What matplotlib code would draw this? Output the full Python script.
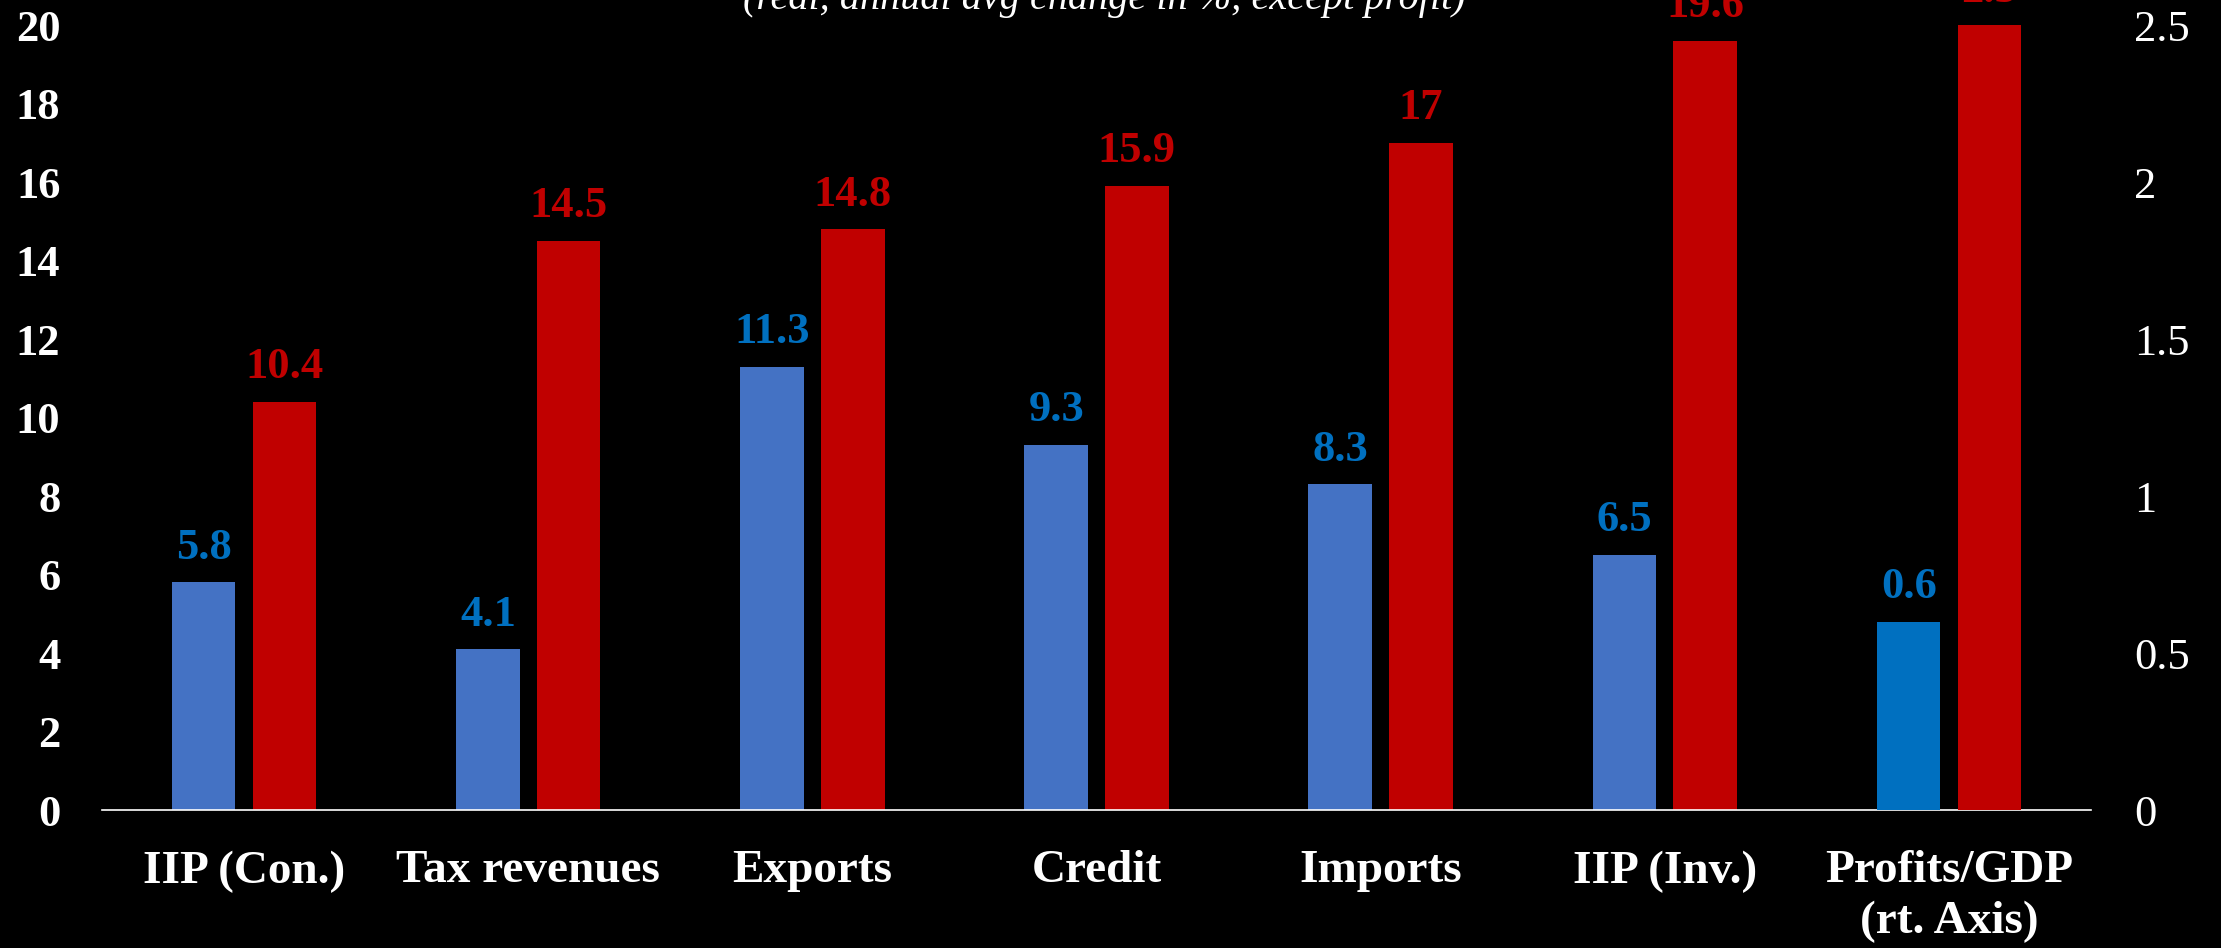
import numpy as np
import matplotlib
matplotlib.use('Agg')
from matplotlib import pyplot as plt

# growth indicators, earlier period vs later period
categories = ['IIP (Con.)', 'Tax revenues', 'Exports', 'Credit', 'Imports', 'IIP (Inv.)',
              'Profits/GDP\n(rt. Axis)']
before = [5.8, 4.1, 11.3, 9.3, 8.3, 6.5]
after = [10.4, 14.5, 14.8, 15.9, 17, 19.6]
profit_before = 0.6
profit_after = 2.5

left_ticks = [0, 2, 4, 6, 8, 10, 12, 14, 16, 18, 20]
right_ticks = [0, 0.5, 1, 1.5, 2, 2.5]
right_labels = ['0', '0.5', '1', '1.5', '2', '2.5']

BLUE = '#4472C4'
BLUE_DARK = '#0070C0'
RED = '#C00000'
SERIF = 'Liberation Serif'


def label_bar(ax, x, v, color, text):
    ax.annotate(text, (x, v), xytext=(0, 17), textcoords='offset points',
                ha='center', va='baseline', color=color, fontsize=32,
                fontweight='bold', family=SERIF, annotation_clip=False)


def main():
    fig = plt.figure(figsize=(22.21, 9.48), dpi=100, facecolor='black')
    ax = fig.add_axes([0.0459, 0.1455, 0.8956, 0.828])
    ax.set_facecolor('black')
    ax2 = ax.twinx()

    x = np.arange(len(before))
    w, off = 0.224, 0.142
    ax.bar(x - off, before, w, color=BLUE)
    ax.bar(x + off, after, w, color=RED)
    for xi, b, a in zip(x, before, after):
        label_bar(ax, xi - off, b, BLUE_DARK, f'{b:g}')
        label_bar(ax, xi + off, a, RED, f'{a:g}')

    # profits share sits on the right-hand scale
    xp = len(before)
    ax2.bar(xp - off, profit_before, w, color=BLUE_DARK)
    ax2.bar(xp + off, profit_after, w, color=RED)
    label_bar(ax2, xp - off, profit_before, BLUE_DARK, f'{profit_before:g}')
    label_bar(ax2, xp + off, profit_after, RED, f'{profit_after:g}')

    ax.set_xlim(-0.5, len(categories) - 0.5)
    ax.set_ylim(0, 20)
    ax2.set_ylim(0, 2.5)

    ax.set_xticks(np.arange(len(categories)))
    ax.set_xticklabels(categories, family=SERIF, fontsize=34, fontweight='bold',
                       color='white', linespacing=1.25)
    ax.set_yticks(left_ticks)
    ax.set_yticklabels([str(t) for t in left_ticks], family=SERIF, fontsize=32,
                       fontweight='bold', color='white')
    ax2.set_yticks(right_ticks)
    ax2.set_yticklabels(right_labels, family=SERIF, fontsize=32, color='white')

    ax.tick_params(axis='x', length=0, pad=29)
    ax.tick_params(axis='y', length=0, pad=30)
    ax2.tick_params(axis='y', length=0, pad=31)
    for a in (ax, ax2):
        for s in ('top', 'left', 'right'):
            a.spines[s].set_visible(False)
    ax.spines['bottom'].set_color('white')
    ax.spines['bottom'].set_linewidth(1.2)
    ax2.spines['bottom'].set_visible(False)

    fig.text(0.497, 0.99, '(real, annual avg change in %, except profit)',
             ha='center', va='baseline', color='white', fontsize=29,
             style='italic', family=SERIF)

    fig.savefig('out.png', dpi=100, facecolor='black')


if __name__ == '__main__':
    main()
